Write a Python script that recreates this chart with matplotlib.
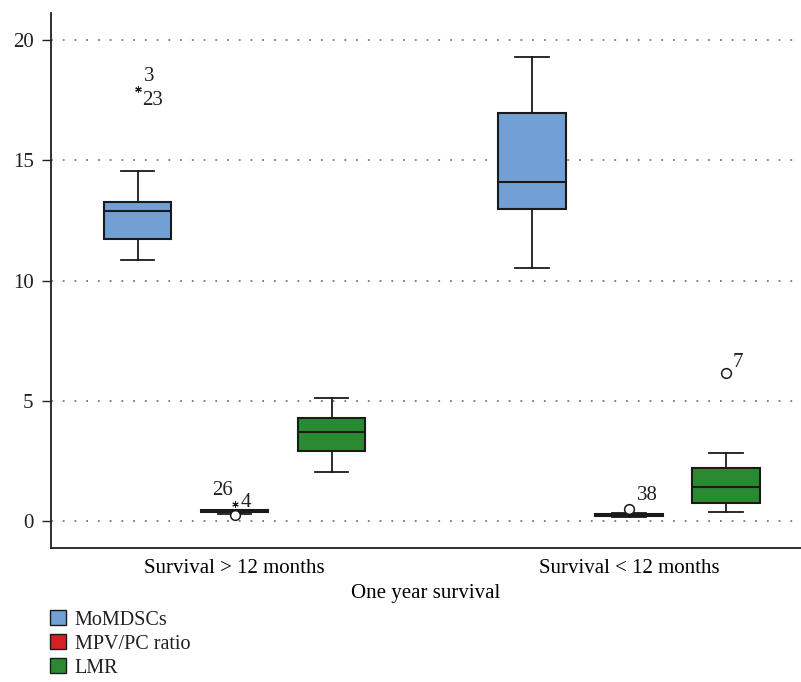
import matplotlib
matplotlib.use("Agg")
import matplotlib.pyplot as plt
from matplotlib.patches import Patch

plt.rcParams['font.family'] = ['Liberation Serif', 'DejaVu Serif']
plt.rcParams['font.size'] = 15
plt.rcParams['text.color'] = '#231f20'

# ---- data ----
groups = ['Survival > 12 months', 'Survival < 12 months']
series = ['MoMDSCs', 'MPV/PC ratio', 'LMR']

momdscs_whislo = [10.84, 10.53]
momdscs_q1 = [11.74, 12.97]
momdscs_med = [12.89, 14.08]
momdscs_q3 = [13.28, 16.98]
momdscs_whishi = [14.57, 19.28]

mpv_whislo = [0.30, 0.18]
mpv_q1 = [0.36, 0.22]
mpv_med = [0.40, 0.25]
mpv_q3 = [0.44, 0.28]
mpv_whishi = [0.48, 0.33]

lmr_whislo = [2.02, 0.39]
lmr_q1 = [2.90, 0.76]
lmr_med = [3.71, 1.43]
lmr_q3 = [4.28, 2.19]
lmr_whishi = [5.13, 2.84]

# outliers: (series index, group index, value, case label)
outliers_circle = [(1, 0, 0.25, '26'), (1, 1, 0.50, '38'), (2, 1, 6.14, '7')]
outliers_extreme = [(0, 0, 17.95, '3'), (0, 0, 17.95, '23'), (1, 0, 0.69, '4')]

colors = ['#729fd4', '#d42027', '#2a8a32']

# label offsets in pixels (layout only)
label_offsets = {'26': (-12, 25), '38': (18, 14), '7': (12, 11),
                 '3': (12, 13), '23': (15, -11), '4': (11, 2)}

stats_by_series = [
    (momdscs_whislo, momdscs_q1, momdscs_med, momdscs_q3, momdscs_whishi),
    (mpv_whislo, mpv_q1, mpv_med, mpv_q3, mpv_whishi),
    (lmr_whislo, lmr_q1, lmr_med, lmr_q3, lmr_whishi),
]

group_centers = [2.0, 6.07]
offsets = [-1.0, 0.0, 1.0]

def pos(s, g):
    return group_centers[g] + offsets[s]

fig = plt.figure(figsize=(8.01, 6.82), dpi=100)
ax = fig.add_axes([51 / 801, 134 / 682, 750 / 801, 535 / 682])

for s, (lo, q1, med, q3, hi) in enumerate(stats_by_series):
    for g in range(len(groups)):
        st = [{'whislo': lo[g], 'q1': q1[g], 'med': med[g], 'q3': q3[g],
               'whishi': hi[g], 'fliers': []}]
        ax.bxp(st, positions=[pos(s, g)], widths=0.7, capwidths=0.35,
               patch_artist=True, showfliers=False,
               boxprops=dict(facecolor=colors[s], edgecolor='#1a1a1a', linewidth=1.5),
               medianprops=dict(color='#1a1a1a', linewidth=1.5),
               whiskerprops=dict(color='#1a1a1a', linewidth=1.3),
               capprops=dict(color='#1a1a1a', linewidth=1.3))

for s, g, v, lab in outliers_circle:
    x = pos(s, g)
    ax.plot(x, v, 'o', ms=7, mfc='white', mec='#1a1a1a', mew=1.1, zorder=4)
    ax.annotate(lab, (x, v), xytext=label_offsets[lab], textcoords='offset pixels',
                ha='center', va='center', fontsize=15)

for s, g, v, lab in outliers_extreme:
    x = pos(s, g)
    ax.plot(x, v, marker=(6, 2, 0), ms=4.5, color='#1a1a1a', mew=0.7, zorder=4)
    ax.annotate(lab, (x, v), xytext=label_offsets[lab], textcoords='offset pixels',
                ha='center', va='center', fontsize=15)

ax.set_xlim(0.108, 7.84)
ax.set_ylim(-1.12, 21.12)
ax.set_yticks([0, 5, 10, 15, 20])
ax.yaxis.grid(True, color='#777777', linewidth=1.3, linestyle=(0, (1, 5.5)))
ax.set_axisbelow(True)
ax.set_xticks(group_centers)
ax.set_xticklabels(groups)
ax.tick_params(axis='x', length=0, pad=8)
ax.tick_params(axis='y', length=6.5, width=1, pad=6, colors='#231f20')
for side in ['top', 'right']:
    ax.spines[side].set_visible(False)
for side in ['left', 'bottom']:
    ax.spines[side].set_linewidth(1.3)
    ax.spines[side].set_color('#231f20')
ax.set_xlabel('One year survival', labelpad=4)

handles = [Patch(facecolor=c, edgecolor='#1a1a1a', linewidth=1) for c in colors]
fig.legend(handles, series, loc='upper left', bbox_to_anchor=(50 / 801, 1 - 610 / 682),
           frameon=False, borderpad=0, borderaxespad=0, handlelength=0.78,
           handleheight=0.78, handletextpad=0.45, labelspacing=0.22, fontsize=14.5)

fig.savefig('out.png', dpi=100)
